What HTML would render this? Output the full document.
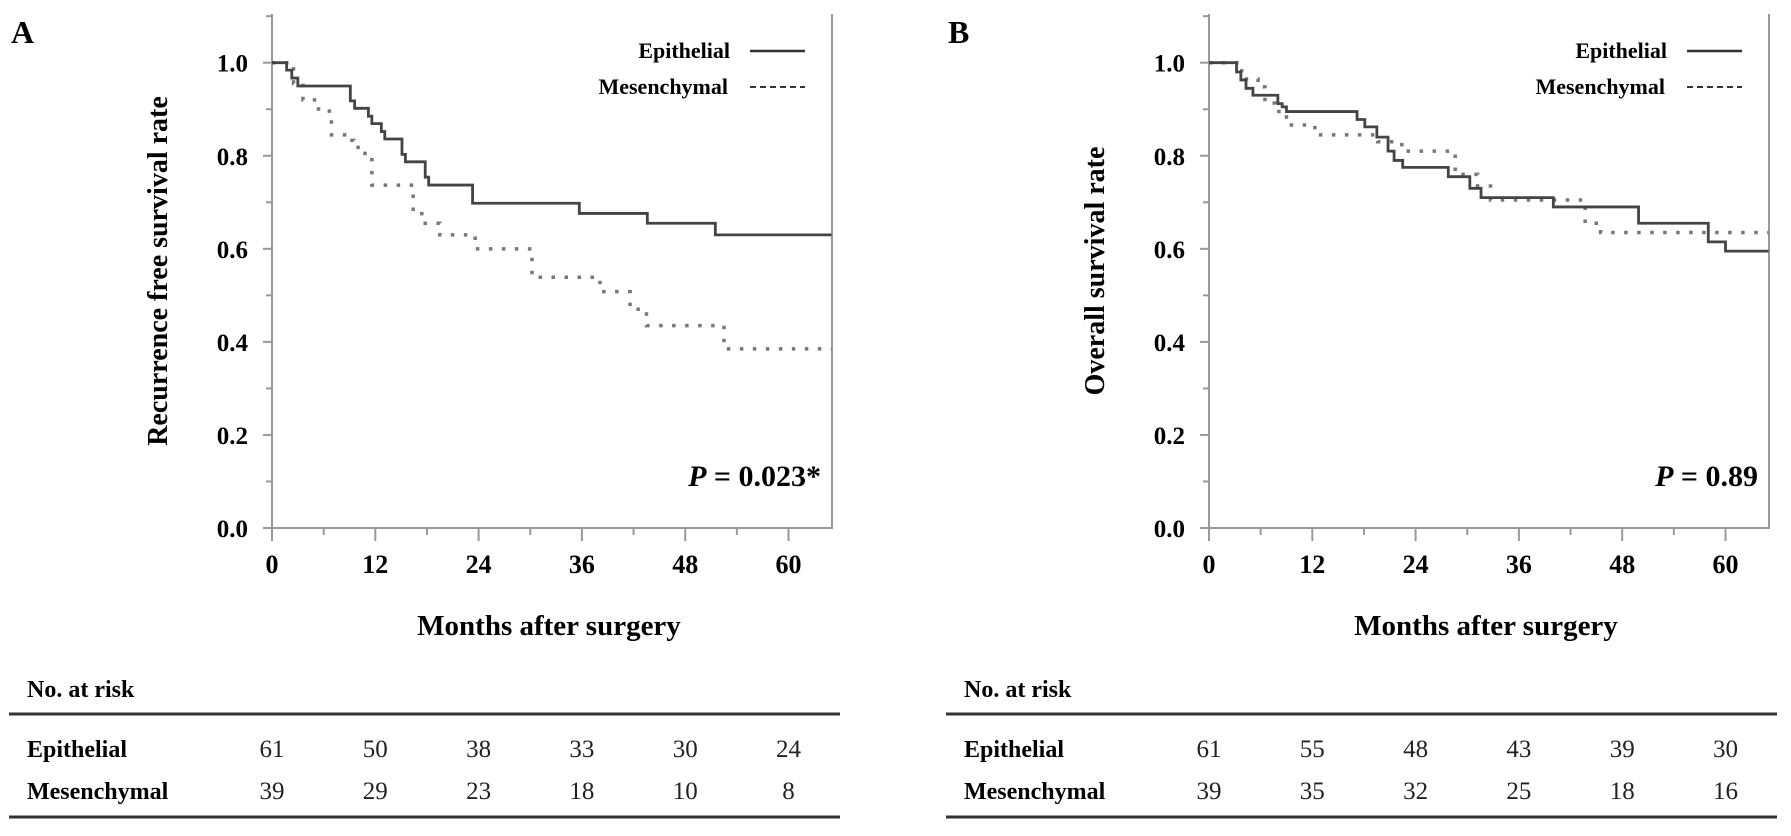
<!DOCTYPE html>
<html><head><meta charset="utf-8"><style>
html,body{margin:0;padding:0;background:#fff;}
svg{display:block;font-family:"Liberation Serif",serif;}
</style></head><body>
<svg id="fig" width="1791" height="836" viewBox="0 0 1791 836" xmlns="http://www.w3.org/2000/svg"></svg>
<script>
// ---- data ----
const xTicks = [0, 12, 24, 36, 48, 60];
const yTicks = [0.0, 0.2, 0.4, 0.6, 0.8, 1.0];
// Panel A: recurrence-free survival (step curves: [month, survival])
const aEpiT = [0, 1.7, 2.3, 3.0, 9.1, 9.6, 11.2, 11.6, 12.7, 13.1, 15.1, 15.5, 17.8, 18.2, 23.3, 35.7, 43.6, 51.5, 65];
const aEpiS = [1.0, 0.984, 0.967, 0.95, 0.918, 0.902, 0.885, 0.869, 0.852, 0.836, 0.803, 0.787, 0.754, 0.737, 0.698, 0.676, 0.655, 0.63, 0.63];
const aMesT = [0, 2.5, 3.6, 5.4, 6.9, 8.7, 9.5, 10.3, 11.6, 16.4, 17.4, 19.5, 23.6, 30.2, 38.1, 41.6, 43.5, 52.5, 65];
const aMesS = [1.0, 0.955, 0.92, 0.896, 0.845, 0.833, 0.818, 0.805, 0.737, 0.68, 0.655, 0.63, 0.60, 0.539, 0.508, 0.47, 0.435, 0.385, 0.385];
// Panel B: overall survival
const bEpiT = [0, 3.2, 3.7, 4.3, 5.1, 8.0, 8.5, 9.0, 17.2, 18.1, 19.5, 20.8, 21.5, 22.5, 27.8, 30.3, 31.6, 40.0, 49.9, 58.0, 60.0, 65];
const bEpiS = [1.0, 0.98, 0.963, 0.945, 0.93, 0.912, 0.905, 0.895, 0.878, 0.862, 0.84, 0.81, 0.79, 0.775, 0.755, 0.73, 0.71, 0.69, 0.655, 0.615, 0.595, 0.595];
const bMesT = [0, 3.8, 5.7, 6.5, 7.7, 9.0, 12.3, 19.6, 22.4, 28.6, 31.2, 32.7, 43.7, 45.5, 65];
const bMesS = [1.0, 0.965, 0.948, 0.913, 0.895, 0.866, 0.845, 0.83, 0.81, 0.76, 0.735, 0.705, 0.655, 0.635, 0.635];
const riskA = [[61, 50, 38, 33, 30, 24], [39, 29, 23, 18, 10, 8]];
const riskB = [[61, 55, 48, 43, 39, 30], [39, 35, 32, 25, 18, 16]];
const groups = ["Epithelial", "Mesenchymal"];

const NS = "http://www.w3.org/2000/svg";
const svg = document.getElementById("fig");
function mk(tag, attrs, parent, text) {
  const e = document.createElementNS(NS, tag);
  for (const k in attrs) e.setAttribute(k, attrs[k]);
  if (text !== undefined) e.textContent = text;
  (parent || svg).appendChild(e);
  return e;
}

function panel(off, letter, yTitle, pText, epiT, epiS, mesT, mesS, risk) {
  const x0 = 272 + off, pxm = 103.3 / 12, xEnd = 832 + off;
  const yTop = 14, yBase = 528, pxv = 465.3;
  const X = m => x0 + m * pxm;
  const Y = v => yBase - v * pxv;
  const g = mk("g", {});
  
  

  const lab = mk("text", {x: 11 + off, y: 43, "font-size": 32, "font-weight": "bold"}, g, letter);
  
  

  // axes
  const ax = mk("path", {d: `M${x0},${yTop} V${yBase} H${xEnd} V${yTop}`, stroke: "#999", "stroke-width": 2, fill: "none"}, g);
  
  
  for (let i = 0; i <= 11; i++) {
    const v = i / 10;
    const major = i % 2 === 0;
    const t = mk("line", {x1: x0 - (major ? 9 : 6), x2: x0, y1: Y(v), y2: Y(v), stroke: "#999", "stroke-width": 2}, g);
    
    
  }
  yTicks.forEach(v => {
    const t = mk("text", {x: x0 - 24, y: Y(v) + 9, "font-size": 25, "font-weight": "bold", "text-anchor": "end"}, g, v.toFixed(1));
    
    
  });
  for (let m = 0; m <= 60; m += 6) {
    const major = m % 12 === 0;
    const t = mk("line", {x1: X(m), x2: X(m), y1: yBase, y2: yBase + (major ? 13 : 7), stroke: "#999", "stroke-width": 2}, g);
    
    
  }
  xTicks.forEach(m => {
    const t = mk("text", {x: X(m), y: 573, "font-size": 26, "font-weight": "bold", "text-anchor": "middle"}, g, String(m));
    
    
  });
  const xt = mk("text", {x: x0 + 277, y: 635, "font-size": 29, "font-weight": "bold", "text-anchor": "middle"}, g, "Months after surgery");
  
  
  const yt = mk("text", {x: 147 + off, y: 271, "font-size": 28, "font-weight": "bold", "text-anchor": "middle", transform: `rotate(-90 ${157 + off} 271)`}, g, yTitle);
  yt.setAttribute('x', 157 + off);
  yt.setAttribute('y', 281);
  
  

  // curves
  function stepPath(T, S) {
    let d = `M${X(T[0])},${Y(S[0])}`;
    for (let i = 1; i < T.length; i++) d += ` H${X(T[i])} V${Y(S[i])}`;
    return d;
  }
  const mes = mk("path", {d: stepPath(mesT, mesS), stroke: "#777", "stroke-width": 3.5, fill: "none", "stroke-dasharray": "3.5 9.5"}, g);
  
  
  const epi = mk("path", {d: stepPath(epiT, epiS), stroke: "#444", "stroke-width": 2.8, fill: "none"}, g);
  
  

  // legend
  const l1 = mk("text", {x: 730 + off, y: 58, "font-size": 22, "font-weight": "bold", "text-anchor": "end"}, g, "Epithelial");
  
  
  const l1l = mk("line", {x1: 750 + off, x2: 805 + off, y1: 51, y2: 51, stroke: "#333", "stroke-width": 2.5}, g);
  
  
  const l2 = mk("text", {x: 728 + off, y: 94, "font-size": 22, "font-weight": "bold", "text-anchor": "end"}, g, "Mesenchymal");
  
  
  const l2l = mk("line", {x1: 750 + off, x2: 805 + off, y1: 87, y2: 87, stroke: "#333", "stroke-width": 2, "stroke-dasharray": "6 4"}, g);
  
  

  // p value
  const p = mk("text", {x: 821 + off, y: 486, "font-size": 30, "font-weight": "bold", "text-anchor": "end"}, g);
  
  
  mk("tspan", {"font-style": "italic"}, p, "P");
  mk("tspan", {}, p, " = " + pText);

  // risk table
  const rt = mk("text", {x: 27 + off, y: 697, "font-size": 24, "font-weight": "bold"}, g, "No.  at risk");
  
  
  [714, 817].forEach(y => {
    const ln = mk("line", {x1: 9 + off, x2: 840 + off, y1: y, y2: y, stroke: "#333", "stroke-width": 3}, g);
    
    
  });
  const rowY = [757, 799];
  groups.forEach((name, r) => {
    const t = mk("text", {x: 27 + off, y: rowY[r], "font-size": 24, "font-weight": "bold"}, g, name);
    
    
    risk[r].forEach((n, c) => {
      const v = mk("text", {x: X(xTicks[c]), y: rowY[r], "font-size": 25, "text-anchor": "middle", fill: "#222"}, g, String(n));
      
      
    });
  });
}

panel(0, "A", "Recurrence free survival rate", "0.023*", aEpiT, aEpiS, aMesT, aMesS, riskA);
panel(937, "B", "Overall survival rate", "0.89", bEpiT, bEpiS, bMesT, bMesS, riskB);
</script>
</body></html>
